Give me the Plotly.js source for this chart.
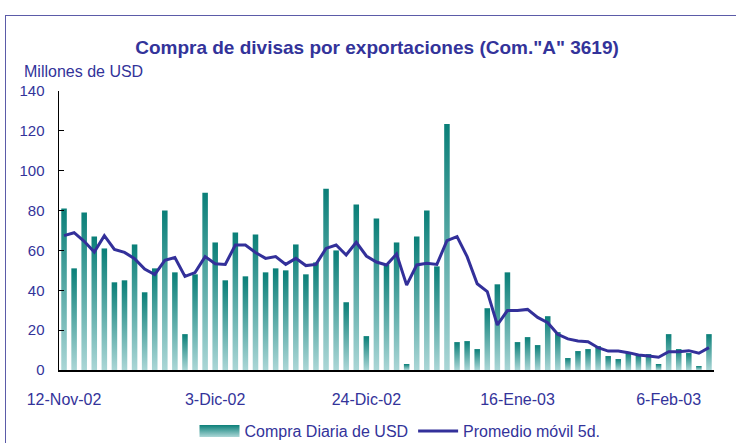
<!DOCTYPE html>
<html><head><meta charset="utf-8">
<script src="https://cdn.plot.ly/plotly-3.0.1.min.js"></script>
<style>
html,body{margin:0;padding:0;background:#fff;}
#wrap{position:relative;width:736px;height:443px;overflow:hidden;}
#chart{position:absolute;left:0;top:0;width:736px;height:443px;}
#frame{position:absolute;left:5px;top:15px;width:800px;height:500px;border-left:1.5px solid #5b5ba8;border-top:1.5px solid #5b5ba8;pointer-events:none;}
</style></head>
<body><div id="wrap"><div id="chart"></div><div id="frame"></div></div>
<script>
const dates = [
"12-Nov-02","13-Nov-02","14-Nov-02","15-Nov-02","18-Nov-02","19-Nov-02","20-Nov-02","21-Nov-02","22-Nov-02","25-Nov-02","26-Nov-02","27-Nov-02","28-Nov-02","29-Nov-02",
"2-Dic-02","3-Dic-02","4-Dic-02","5-Dic-02","6-Dic-02","9-Dic-02","10-Dic-02","11-Dic-02","12-Dic-02","13-Dic-02","16-Dic-02","17-Dic-02","18-Dic-02","19-Dic-02","20-Dic-02","23-Dic-02","24-Dic-02","26-Dic-02","27-Dic-02","30-Dic-02","31-Dic-02",
"2-Ene-03","3-Ene-03","6-Ene-03","7-Ene-03","8-Ene-03","9-Ene-03","10-Ene-03","13-Ene-03","14-Ene-03","15-Ene-03","16-Ene-03","17-Ene-03","20-Ene-03","21-Ene-03","22-Ene-03","23-Ene-03","24-Ene-03","27-Ene-03","28-Ene-03","29-Ene-03","30-Ene-03","31-Ene-03",
"3-Feb-03","4-Feb-03","5-Feb-03","6-Feb-03","7-Feb-03","10-Feb-03","11-Feb-03","12-Feb-03"];

const compraDiaria = [
81,51,79,67,61,44,45,63,39,51,80,49,18,48,89,64,45,69,47,68,
49,51,50,63,48,54,91,60,34,83,17,76,53,64,3,67,80,52,123.5,14,
14.5,10.5,31,43,49,14,16.5,12.5,27,19,6,9.5,10.5,12,7,5.5,8.5,7.5,8,3,
18,10.5,8.5,2,18];

const promedioMovil = [
67.4,68.9,64.6,59.2,67.4,60.5,59.0,55.9,50.6,47.9,55.0,56.4,47.0,48.9,56.9,53.3,53.0,62.7,62.7,59.0,
56.0,56.9,53.0,56.0,52.4,53.0,61.0,62.7,57.7,64.1,57.2,54.2,52.7,58.2,42.6,52.7,53.5,53.0,64.9,66.9,
56.9,43.3,39.3,22.6,29.8,29.8,30.4,26.4,23.7,17.9,15.6,14.6,14.2,11.2,9.5,9.5,8.7,7.5,7.0,6.4,
9.2,9.2,9.7,8.4,11.2];

const tickDates = ["12-Nov-02","3-Dic-02","24-Dic-02","16-Ene-03","6-Feb-03"];
const yTicks = [0,20,40,60,80,100,120,140];

const txt = '#33339a';
const fnt = 'Liberation Sans, Arial, sans-serif';

const data = [
  {type:'bar', x:dates, y:compraDiaria, name:'Compra Diaria de USD',
   marker:{color:'#4f9e9a', line:{width:0}}},
  {type:'scatter', mode:'lines', x:dates, y:promedioMovil, name:'Promedio móvil 5d.',
   line:{color:'#33309a', width:3}}
];

const layout = {
  width:736, height:443,
  margin:{l:59, r:22, t:91, b:73},
  paper_bgcolor:'#ffffff', plot_bgcolor:'#ffffff',
  font:{family:fnt, color:txt, size:16},
  bargap:0.45,
  showlegend:true,
  title:{text:'<b>Compra de divisas por exportaciones (Com."A" 3619)</b>',
         font:{size:19, color:txt, family:fnt},
         x:377/736, xanchor:'center', xref:'container',
         y:1-47/443, yanchor:'middle', yref:'container'},
  xaxis:{type:'category', tickvals:tickDates, ticktext:tickDates,
         showline:true, linecolor:'#000', linewidth:1.5, ticks:'',
         showgrid:false, zeroline:false,
         tickfont:{size:16, color:txt}, ticklabelstandoff:14, tickangle:0},
  yaxis:{range:[0,140], tickvals:yTicks, ticks:'inside', ticklen:5, tickcolor:'#000', tickwidth:1,
         showline:true, linecolor:'#000', linewidth:1.5, showgrid:false, zeroline:false,
         tickfont:{size:15, color:txt}, ticklabelstandoff:10},
  legend:{orientation:'h', xref:'container', yref:'container',
          x:400/736, xanchor:'center', y:1-431/443, yanchor:'middle',
          font:{size:16, color:txt}, itemwidth:40, tracegroupgap:0},
  annotations:[{text:'Millones de USD', xref:'paper', yref:'paper',
                x:(22-59)/655, xanchor:'left', y:(370-71)/279, yanchor:'middle',
                showarrow:false, font:{size:16, color:txt}}]
};

Plotly.newPlot('chart', data, layout, {staticPlot:true, displayModeBar:false}).then(function(gd){
  const ns = 'http://www.w3.org/2000/svg';
  const svg = gd.querySelector('svg.main-svg');
  let defs = svg.querySelector('defs');
  if(!defs){ defs = document.createElementNS(ns,'defs'); svg.insertBefore(defs, svg.firstChild); }
  const lg = document.createElementNS(ns,'linearGradient');
  lg.setAttribute('id','barGrad');
  lg.setAttribute('x1','0'); lg.setAttribute('y1','0'); lg.setAttribute('x2','0'); lg.setAttribute('y2','1');
  [['0','#0a7f78'],['1','#aad6d6']].forEach(function(s){
    const st = document.createElementNS(ns,'stop');
    st.setAttribute('offset', s[0]); st.setAttribute('stop-color', s[1]);
    lg.appendChild(st);
  });
  defs.appendChild(lg);
  gd.querySelectorAll('.barlayer .point path').forEach(function(p){ p.style.fill='url(#barGrad)'; });
  const traces = gd.querySelectorAll('.legend .traces');
  let barPath = null, linePath = null;
  traces.forEach(function(t){
    const lp = t.querySelector('.legendlines path');
    if(lp && !linePath) linePath = lp;
    const pts = t.querySelectorAll('.legendpoints path');
    pts.forEach(function(p){ if(!barPath && !t.querySelector('.legendlines path')) barPath = p; });
  });
  if(barPath){
    barPath.style.fill = 'url(#barGrad)';
    const bb = barPath.getBBox();
    const cx = bb.x + bb.width/2;
    let w = 35;
    if(linePath){ w = linePath.getBBox().width || 35; }
    const x0 = cx - w/2, x1 = cx + w/2;
    barPath.setAttribute('d', 'M'+x0+',6H'+x1+'V-6H'+x0+'Z');
  }
});
</script>
</body></html>
